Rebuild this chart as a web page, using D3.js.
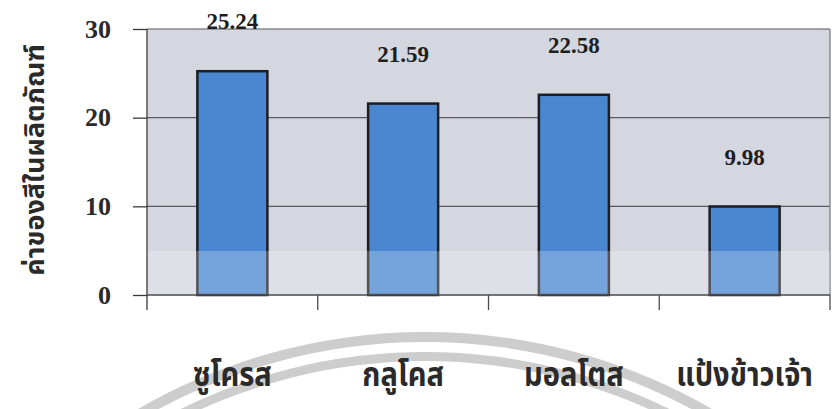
<!DOCTYPE html>
<html>
<head>
<meta charset="utf-8">
<script src="https://cdn.jsdelivr.net/npm/d3@7"></script>
<style>
  html, body { margin: 0; padding: 0; background: #ffffff; }
  svg { display: block; }
</style>
</head>
<body>
<svg id="chart" width="837" height="409"></svg>
<script>
const categories = ["ซูโครส", "กลูโคส", "มอลโตส", "แป้งข้าวเจ้า"];
const values = [25.24, 21.59, 22.58, 9.98];
const valueLabels = ["25.24", "21.59", "22.58", "9.98"];
const yTicks = [0, 10, 20, 30];
const yTitle = "ค่าของสีในผลิตภัณฑ์";

const svg = d3.select("#chart");
const plot = { left: 147, right: 830, top: 29, bottom: 295 };

const x = d3.scaleBand().domain(categories)
  .range([plot.left, plot.right]).paddingInner(0.59).paddingOuter(0.295);
const y = d3.scaleLinear().domain([0, 30]).range([plot.bottom, plot.top]);

// watermark arcs (behind everything)
const wm = svg.append("g").attr("transform", "translate(425,905)").attr("opacity", 0.42);
wm.append("path").attr("d", d3.arc()({ innerRadius: 563, outerRadius: 573, startAngle: -0.55, endAngle: 0.55 })).attr("fill", "#8a8a8a");
wm.append("path").attr("d", d3.arc()({ innerRadius: 544, outerRadius: 553, startAngle: -0.5, endAngle: 0.5 })).attr("fill", "#8a8a8a");

// plot background
svg.append("rect")
  .attr("x", plot.left).attr("y", plot.top)
  .attr("width", plot.right - plot.left).attr("height", plot.bottom - plot.top)
  .attr("fill", "#d4d6e0");

// gridlines
svg.append("g").selectAll("line").data(yTicks.filter(d => d > 0)).join("line")
  .attr("x1", plot.left).attr("x2", plot.right)
  .attr("y1", d => y(d)).attr("y2", d => y(d))
  .attr("stroke", "#5a5a5e").attr("stroke-width", 1.2);

// right border
svg.append("line")
  .attr("x1", plot.right).attr("x2", plot.right)
  .attr("y1", plot.top).attr("y2", plot.bottom)
  .attr("stroke", "#8a8a90").attr("stroke-width", 1.5);

// bars
svg.append("g").selectAll("rect").data(values).join("rect")
  .attr("x", (d, i) => x(categories[i]))
  .attr("y", d => y(d))
  .attr("width", x.bandwidth())
  .attr("height", d => y(0) - y(d))
  .attr("fill", "#4a87d0")
  .attr("stroke", "#1e1e22").attr("stroke-width", 2.5);

// lighter band (scan lighting)
svg.append("rect")
  .attr("x", plot.left).attr("y", 251)
  .attr("width", plot.right - plot.left).attr("height", plot.bottom - 251)
  .attr("fill", "#ffffff").attr("opacity", 0.24);

// y axis
const yAxis = d3.axisLeft(y).tickValues(yTicks).tickSize(14).tickPadding(22).tickFormat(d3.format("d"));
const gy = svg.append("g").attr("transform", `translate(${plot.left},0)`).call(yAxis);
gy.select(".domain").attr("stroke", "#3a3a3e").attr("stroke-width", 1.3)
  .attr("d", `M0,${plot.top}V${plot.bottom + 15}`);
gy.selectAll(".tick line").attr("stroke", "#3a3a3e").attr("stroke-width", 1.3);
gy.selectAll(".tick text")
  .attr("font-family", "'Liberation Serif', 'Times New Roman', serif")
  .attr("font-weight", "bold").attr("font-size", 26).attr("fill", "#2a2a2a");

// x axis baseline
svg.append("line")
  .attr("x1", plot.left).attr("x2", plot.right)
  .attr("y1", plot.bottom).attr("y2", plot.bottom)
  .attr("stroke", "#4a4a4e").attr("stroke-width", 1.3);

// x ticks at band boundaries
const bounds = d3.range(1, categories.length + 1).map(i => plot.left + i * x.step());
svg.append("g").selectAll("line").data(bounds).join("line")
  .attr("x1", d => Math.min(d, plot.right)).attr("x2", d => Math.min(d, plot.right))
  .attr("y1", plot.bottom).attr("y2", plot.bottom + 15)
  .attr("stroke", "#4a4a4e").attr("stroke-width", 1.3);

// x labels
svg.append("g").selectAll("text").data(categories).join("text")
  .attr("transform", d => `translate(${x(d) + x.bandwidth() / 2},386) scale(0.88,1)`)
  .attr("text-anchor", "middle")
  .attr("font-family", "'Noto Sans Thai', 'Tlwg Typist', 'Loma', sans-serif")
  .attr("font-weight", "bold").attr("font-size", 33).attr("fill", "#2a2a2a")
  .text(d => d);

// value labels
svg.append("g").selectAll("text").data(values).join("text")
  .attr("x", (d, i) => x(categories[i]) + x.bandwidth() / 2)
  .attr("y", d => y(d) - 42)
  .attr("text-anchor", "middle")
  .attr("font-family", "'Liberation Serif', 'Times New Roman', serif")
  .attr("font-weight", "bold").attr("font-size", 23).attr("fill", "#1e1e1e")
  .text((d, i) => valueLabels[i]);

// y title
svg.append("text")
  .attr("transform", "translate(44,160) rotate(-90)")
  .attr("text-anchor", "middle")
  .attr("font-family", "'Noto Sans Thai', 'Tlwg Typist', 'Loma', sans-serif")
  .attr("font-weight", "bold").attr("font-size", 27).attr("fill", "#2a2a2a")
  .text(yTitle);
</script>
</body>
</html>
